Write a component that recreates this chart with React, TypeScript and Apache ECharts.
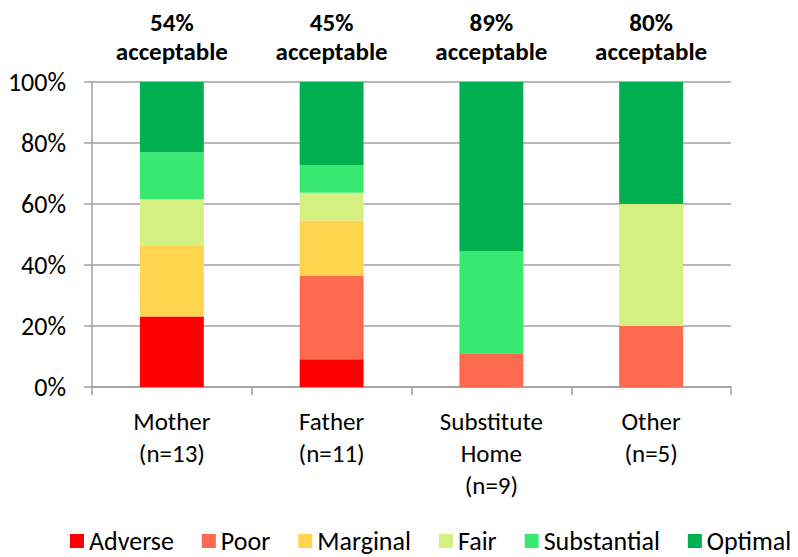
import React, { useEffect, useRef } from "react";
import * as echarts from "echarts";

const categories = ["Mother\n(n=13)", "Father\n(n=11)", "Substitute\nHome\n(n=9)", "Other\n(n=5)"];
const acceptable = [54, 45, 89, 80];
const adverse = [23.1, 9.1, 0, 0];
const poor = [0, 27.3, 11.1, 20];
const marginal = [23.1, 18.2, 0, 0];
const fair = [15.4, 9.1, 0, 40];
const substantial = [15.4, 9.1, 33.3, 0];
const optimal = [23.0, 27.2, 55.6, 40];

const seriesNames = ["Adverse", "Poor", "Marginal", "Fair", "Substantial", "Optimal"];
const seriesData = [adverse, poor, marginal, fair, substantial, optimal];
const colors = ["#FF0000", "#FC6A50", "#FFD550", "#D4F080", "#38E870", "#00B050"];

const FONT = "Carlito, Lato, sans-serif";
const GRID = "#A0A0A0";

export default function App() {
  const ref = useRef<HTMLDivElement>(null);
  useEffect(() => {
    if (!ref.current) return;
    const chart = echarts.init(ref.current, null, { renderer: "svg" });
    chart.setOption({
      animation: false,
      textStyle: { fontFamily: FONT },
      grid: { left: 92, right: 67, top: 82, bottom: 170, containLabel: false },
      legend: {
        data: seriesNames,
        top: 528,
        left: 70,
        padding: 0,
        icon: "rect",
        itemWidth: 14,
        itemHeight: 14,
        itemGap: 28,
        selectedMode: false,
        textStyle: { fontSize: 26, lineHeight: 26, color: "#000", fontFamily: FONT },
      },
      xAxis: {
        type: "category",
        data: categories,
        axisLine: { show: true, lineStyle: { color: GRID, width: 1.5 } },
        axisTick: { show: true, length: 8, alignWithLabel: false, lineStyle: { color: GRID, width: 1.5 } },
        axisLabel: { fontSize: 25, lineHeight: 32, color: "#000", margin: 18, fontFamily: FONT, interval: 0 },
        splitLine: { show: false },
      },
      yAxis: {
        type: "value",
        min: 0,
        max: 100,
        interval: 20,
        axisLine: { show: true, lineStyle: { color: GRID, width: 1.5 } },
        axisTick: { show: true, length: 8, lineStyle: { color: GRID, width: 1.5 } },
        axisLabel: { formatter: "{value}%", fontSize: 26, color: "#000", margin: 26, fontFamily: FONT },
        splitLine: { show: true, lineStyle: { color: GRID, width: 1.5 } },
      },
      series: seriesNames.map((name, i) => ({
        name,
        type: "bar",
        stack: "total",
        barWidth: "40%",
        data: seriesData[i],
        itemStyle: { color: colors[i] },
        emphasis: { disabled: true },
        label:
          i === seriesNames.length - 1
            ? {
                show: true,
                position: "top",
                distance: 16,
                formatter: (p: any) => `${acceptable[p.dataIndex]}%\nacceptable`,
                fontSize: 25,
                fontWeight: "bold",
                lineHeight: 29,
                color: "#000",
                fontFamily: FONT,
              }
            : { show: false },
      })),
    });
    return () => chart.dispose();
  }, []);
  return <div ref={ref} style={{ position: "absolute", left: 0, top: 0, width: 798, height: 557 }} />;
}
